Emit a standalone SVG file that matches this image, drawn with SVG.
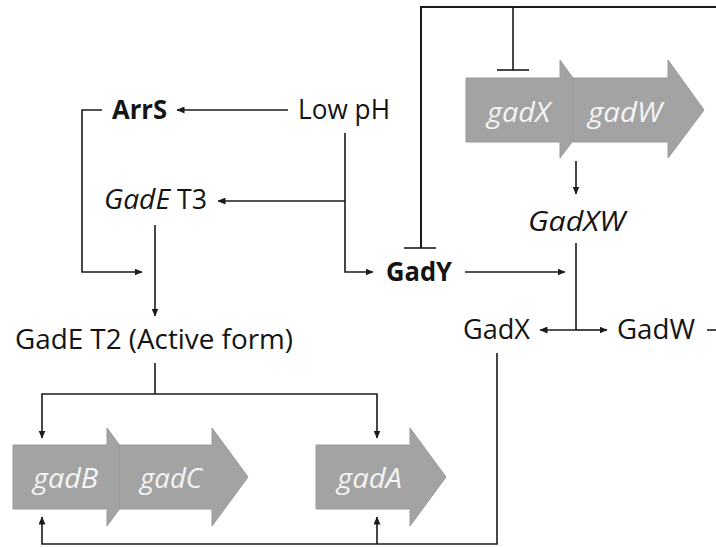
<svg xmlns="http://www.w3.org/2000/svg" width="716" height="547" viewBox="0 0 716 547">
  <defs>
    <marker id="arrow" markerUnits="userSpaceOnUse" markerWidth="8" markerHeight="7" refX="7.5" refY="3.5" orient="auto">
      <path d="M0,0 L8,3.5 L0,7 z" fill="#1a1a1a"/>
    </marker>
    <style>
      .lbl { font-family: "Open Sans", "Liberation Sans", sans-serif; font-size: 27px; fill: #141414; }
      .b { font-weight: bold; }
      .i { font-style: italic; }
      .gene { font-family: "Open Sans", "Liberation Sans", sans-serif; font-size: 28px; font-style: italic; fill: #f4f4f4; }
      .shape { fill: #a3a3a3; stroke: #999999; stroke-width: 1; }
      .line { fill: none; stroke: #1a1a1a; stroke-width: 1.6; }
      .arr { marker-end: url(#arrow); }
    </style>
  </defs>
  <rect width="716" height="547" fill="#ffffff"/>

  <!-- gene operons -->
  <g id="gadX">
    <polygon class="shape" points="466,78 560,78 560,60 596,110 560,158 560,142 466,142"/>
    <text class="gene" x="487" y="122" textLength="63" lengthAdjust="spacingAndGlyphs">gadX</text>
  </g>
  <g id="gadW">
    <polygon class="shape" points="573,78 668,78 668,60 704,110 668,158 668,142 573,142"/>
    <text class="gene" x="588" y="122" textLength="74" lengthAdjust="spacingAndGlyphs">gadW</text>
  </g>
  <g id="gadB">
    <polygon class="shape" points="13,445 107,445 107,428 143,477 107,526 107,509 13,509"/>
    <text class="gene" x="33" y="488" textLength="65" lengthAdjust="spacingAndGlyphs">gadB</text>
  </g>
  <g id="gadC">
    <polygon class="shape" points="119,445 212,445 212,428 248,477 212,526 212,509 119,509"/>
    <text class="gene" x="140" y="488" textLength="62" lengthAdjust="spacingAndGlyphs">gadC</text>
  </g>
  <g id="gadA">
    <polygon class="shape" points="316,445 410,445 410,428 446,477 410,526 410,509 316,509"/>
    <text class="gene" x="337" y="488" textLength="65" lengthAdjust="spacingAndGlyphs">gadA</text>
  </g>

  <!-- regulators and signals -->
  <g id="ArrS">
    <text class="lbl b" x="112" y="119" textLength="55" lengthAdjust="spacingAndGlyphs">ArrS</text>
  </g>
  <g id="LowpH">
    <text class="lbl" x="298" y="119" textLength="92" lengthAdjust="spacingAndGlyphs">Low pH</text>
  </g>
  <g id="GadET3">
    <text class="lbl i" x="104" y="209" textLength="66" lengthAdjust="spacingAndGlyphs">GadE</text>
    <text class="lbl" x="177" y="209" textLength="30" lengthAdjust="spacingAndGlyphs">T3</text>
  </g>
  <g id="GadY">
    <text class="lbl b" x="386" y="281" textLength="66" lengthAdjust="spacingAndGlyphs">GadY</text>
  </g>
  <g id="GadXW">
    <text class="lbl i" x="528" y="231" textLength="97" lengthAdjust="spacingAndGlyphs">GadXW</text>
  </g>
  <g id="GadXprot">
    <text class="lbl" x="463" y="339" textLength="67" lengthAdjust="spacingAndGlyphs">GadX</text>
  </g>
  <g id="GadWprot">
    <text class="lbl" x="617" y="339" textLength="78" lengthAdjust="spacingAndGlyphs">GadW</text>
  </g>
  <g id="GadET2">
    <text class="lbl" x="15" y="349" textLength="278" lengthAdjust="spacingAndGlyphs">GadE T2 (Active form)</text>
  </g>

  <!-- connectors -->
  <g id="connectors">
    <!-- Low pH to ArrS -->
    <line class="line arr" x1="288" y1="110" x2="177" y2="110"/>
    <!-- ArrS to GadE T2 -->
    <polyline class="line arr" points="102,110 82,110 82,272 142,272"/>
    <!-- Low pH trunk to GadY -->
    <polyline class="line arr" points="345,133 345,272 373,272"/>
    <!-- Low pH to GadE T3 -->
    <line class="line arr" x1="345" y1="201" x2="218" y2="201"/>
    <!-- GadE T3 to GadE T2 -->
    <line class="line arr" x1="155" y1="225" x2="155" y2="316"/>
    <!-- GadE T2 to gadB and gadA -->
    <polyline class="line" points="155,363 155,394"/>
    <polyline class="line arr" points="155,394 42,394 42,438"/>
    <polyline class="line arr" points="155,394 377,394 377,438"/>
    <!-- GadX feedback to gadB and gadA -->
    <polyline class="line arr" points="497,353 497,544 42,544 42,517"/>
    <line class="line arr" x1="377" y1="544" x2="377" y2="517"/>
    <!-- GadY to GadXW -->
    <line class="line arr" x1="465" y1="272" x2="565" y2="272"/>
    <!-- gadXW operon to GadXW -->
    <line class="line arr" x1="576" y1="161" x2="576" y2="194"/>
    <!-- GadXW split into GadX and GadW -->
    <line class="line" x1="576" y1="243" x2="576" y2="330"/>
    <line class="line arr" x1="576" y1="330" x2="540" y2="330"/>
    <line class="line arr" x1="576" y1="330" x2="607" y2="330"/>
    <!-- GadW output -->
    <line class="line" x1="707" y1="330" x2="716" y2="330"/>
    <!-- top repression line -->
    <polyline class="line" points="716,7 421,7 421,248" style="stroke-width:2"/>
    <line class="line" x1="404" y1="248" x2="436" y2="248"/>
    <line class="line" x1="513" y1="7" x2="513" y2="70"/>
    <line class="line" x1="497" y1="70" x2="529" y2="70"/>
  </g>
</svg>
